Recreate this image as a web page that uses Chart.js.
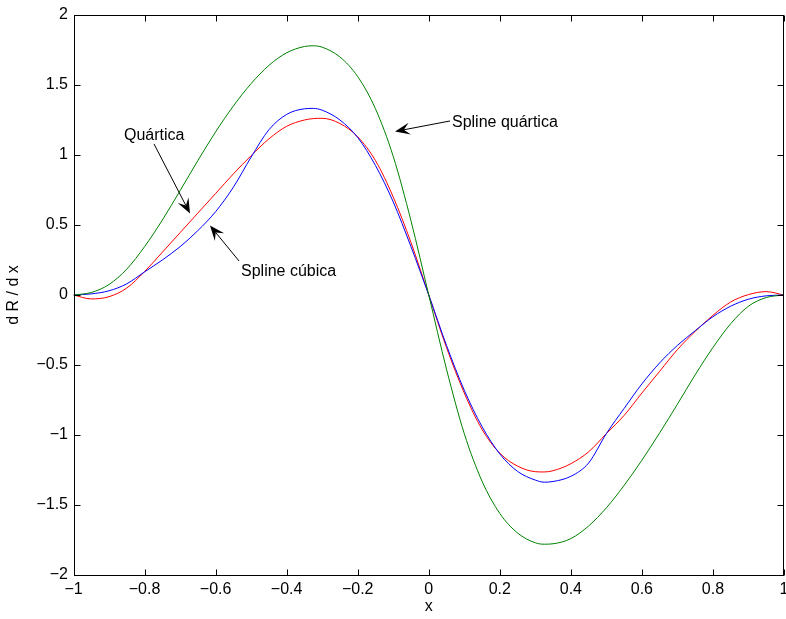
<!DOCTYPE html>
<html>
<head>
<meta charset="utf-8">
<script src="https://cdn.jsdelivr.net/npm/chart.js@4/dist/chart.umd.min.js"></script>
<style>
  html, body { margin: 0; padding: 0; background: #fff; }
</style>
</head>
<body>
<canvas id="c" width="786" height="619"></canvas>
<script>
// Sample positions along x
const xs = [-1, -0.95, -0.9, -0.85, -0.8, -0.75, -0.7, -0.65, -0.6, -0.55, -0.5, -0.45, -0.4, -0.35, -0.325, -0.3,
            -0.25, -0.2, -0.15, -0.1, -0.05, 0, 0.05, 0.1, 0.15, 0.2, 0.25, 0.3, 0.325, 0.35, 0.4, 0.45, 0.5,
            0.55, 0.6, 0.65, 0.7, 0.75, 0.8, 0.85, 0.9, 0.95, 1];

// dR/dx of the quartic spline (green)
const splineQuartica = [0, 0.018, 0.075, 0.185, 0.345, 0.535, 0.745, 0.96, 1.165, 1.35, 1.51, 1.64, 1.73, 1.775, 1.78, 1.77,
            1.7, 1.56, 1.33, 0.99, 0.53, 0, -0.53, -0.99, -1.33, -1.56, -1.7, -1.77, -1.78, -1.777, -1.74, -1.65, -1.52,
            -1.36, -1.18, -0.985, -0.78, -0.57, -0.375, -0.205, -0.08, -0.018, 0];

// dR/dx of the cubic spline (blue)
const splineCubica = [0, 0.008, 0.03, 0.08, 0.165, 0.25, 0.345, 0.46, 0.595, 0.77, 0.985, 1.18, 1.29, 1.33, 1.333, 1.32,
            1.25, 1.125, 0.925, 0.665, 0.345, 0, -0.36, -0.68, -0.94, -1.135, -1.26, -1.322, -1.337, -1.332, -1.295, -1.2, -0.99,
            -0.81, -0.635, -0.485, -0.36, -0.255, -0.155, -0.08, -0.03, -0.006, 0];

// dR/dx of the quartic (red)
const quartica = [0, -0.028, -0.012, 0.05, 0.167, 0.305, 0.445, 0.585, 0.725, 0.865, 0.995, 1.115, 1.205, 1.25, 1.26, 1.262,
            1.225, 1.13, 0.96, 0.7, 0.375, 0, -0.375, -0.7, -0.96, -1.13, -1.222, -1.262, -1.264, -1.255, -1.205, -1.12, -0.99,
            -0.86, -0.7, -0.545, -0.39, -0.26, -0.145, -0.05, 0.003, 0.024, 0];

const xTicks = [-1, -0.8, -0.6, -0.4, -0.2, 0, 0.2, 0.4, 0.6, 0.8, 1];
const yTicks = [-2, -1.5, -1, -0.5, 0, 0.5, 1, 1.5, 2];

const xTitle = 'x';
const yTitle = 'd R / d x';

// Labels with arrows, placed in data units
const notes = [
  { text: 'Quártica',        at: [-0.858, 1.107],  tail: [-0.7734, 1.079], tip: [-0.672, 0.582] },
  { text: 'Spline cúbica',   at: [-0.5285, 0.136], tail: [-0.534, 0.243],  tip: [-0.6158, 0.496] },
  { text: 'Spline quártica', at: [0.0654, 1.2],    tail: [0.0598, 1.243],  tip: [-0.095, 1.168] }
];

const FONT = '"Liberation Sans", Arial, Helvetica, sans-serif';
const fmt = v => String(Math.round(v * 10) / 10).replace('-', '\u2212');
const pts = arr => xs.map((x, i) => ({ x: x, y: arr[i] }));

// Box frame with inward ticks, axis titles and arrow annotations
const framePlugin = {
  id: 'frame',
  afterDatasetsDraw(chart) {
    const ctx = chart.ctx;
    const a = chart.chartArea;
    const sx = chart.scales.x, sy = chart.scales.y;
    const L = Math.round(a.left) + 0.5, R = Math.round(a.right) - 0.5;
    const T = Math.round(a.top) + 0.5, B = Math.round(a.bottom) + 0.5;
    ctx.save();
    ctx.strokeStyle = '#000';
    ctx.lineWidth = 1;
    ctx.strokeRect(L, T, R - L, B - T);
    const tl = 6;
    ctx.beginPath();
    xTicks.forEach(v => {
      const px = Math.round(sx.getPixelForValue(v)) + 0.5;
      ctx.moveTo(px, B); ctx.lineTo(px, B - tl);
      ctx.moveTo(px, T); ctx.lineTo(px, T + tl);
    });
    yTicks.forEach(v => {
      const py = Math.round(sy.getPixelForValue(v)) + 0.5;
      ctx.moveTo(L, py); ctx.lineTo(L + tl, py);
      ctx.moveTo(R, py); ctx.lineTo(R - tl, py);
    });
    ctx.stroke();

    ctx.fillStyle = '#000';
    ctx.font = '16px ' + FONT;
    ctx.textAlign = 'center';
    ctx.textBaseline = 'middle';
    ctx.fillText(xTitle, (a.left + a.right) / 2, a.bottom + 32);
    ctx.save();
    ctx.translate(14, (a.top + a.bottom) / 2);
    ctx.rotate(-Math.PI / 2);
    ctx.fillText(yTitle, 0, 0);
    ctx.restore();

    ctx.textAlign = 'left';
    ctx.textBaseline = 'alphabetic';
    notes.forEach(n => {
      ctx.fillText(n.text, sx.getPixelForValue(n.at[0]), sy.getPixelForValue(n.at[1]));
      const x0 = sx.getPixelForValue(n.tail[0]), y0 = sy.getPixelForValue(n.tail[1]);
      const x1 = sx.getPixelForValue(n.tip[0]),  y1 = sy.getPixelForValue(n.tip[1]);
      const dx = x1 - x0, dy = y1 - y0, len = Math.hypot(dx, dy);
      const ux = dx / len, uy = dy / len, nx = -uy, ny = ux;
      const hl = 15, hw = 6, notch = 0.6 * hl;
      ctx.beginPath();
      ctx.moveTo(x0, y0);
      ctx.lineTo(x1 - ux * notch, y1 - uy * notch);
      ctx.stroke();
      ctx.beginPath();
      ctx.moveTo(x1, y1);
      ctx.lineTo(x1 - ux * hl + nx * hw, y1 - uy * hl + ny * hw);
      ctx.lineTo(x1 - ux * notch, y1 - uy * notch);
      ctx.lineTo(x1 - ux * hl - nx * hw, y1 - uy * hl - ny * hw);
      ctx.closePath();
      ctx.fill();
    });
    ctx.restore();
  }
};

const line = (data, color) => ({
  data: pts(data), borderColor: color, backgroundColor: color, borderWidth: 1,
  pointRadius: 0, cubicInterpolationMode: 'monotone', fill: false
});

new Chart(document.getElementById('c'), {
  type: 'line',
  data: {
    datasets: [
      line(splineQuartica, 'rgb(0,128,0)'),
      line(splineCubica, 'rgb(0,0,255)'),
      line(quartica, 'rgb(255,0,0)')
    ]
  },
  options: {
    responsive: false,
    animation: false,
    devicePixelRatio: 1,
    layout: { padding: { left: 0, right: 2, top: 15, bottom: 0 } },
    plugins: { legend: { display: false }, tooltip: { enabled: false } },
    scales: {
      x: {
        type: 'linear', min: -1, max: 1,
        afterBuildTicks: s => { s.ticks = xTicks.map(v => ({ value: v })); },
        afterFit: s => { s.height = 44; s.paddingLeft = 0; s.paddingRight = 0; },
        ticks: { callback: fmt, color: '#000', font: { family: FONT, size: 16 }, padding: 5, maxRotation: 0, autoSkip: false },
        grid: { display: false, drawTicks: false },
        border: { display: false }
      },
      y: {
        type: 'linear', min: -2, max: 2,
        afterBuildTicks: s => { s.ticks = yTicks.map(v => ({ value: v })); },
        afterFit: s => { s.width = 73.5; s.paddingTop = 0; s.paddingBottom = 0; },
        ticks: { callback: fmt, color: '#000', font: { family: FONT, size: 16 }, padding: 5.5, autoSkip: false },
        grid: { display: false, drawTicks: false },
        border: { display: false }
      }
    }
  },
  plugins: [framePlugin]
});
</script>
</body>
</html>
